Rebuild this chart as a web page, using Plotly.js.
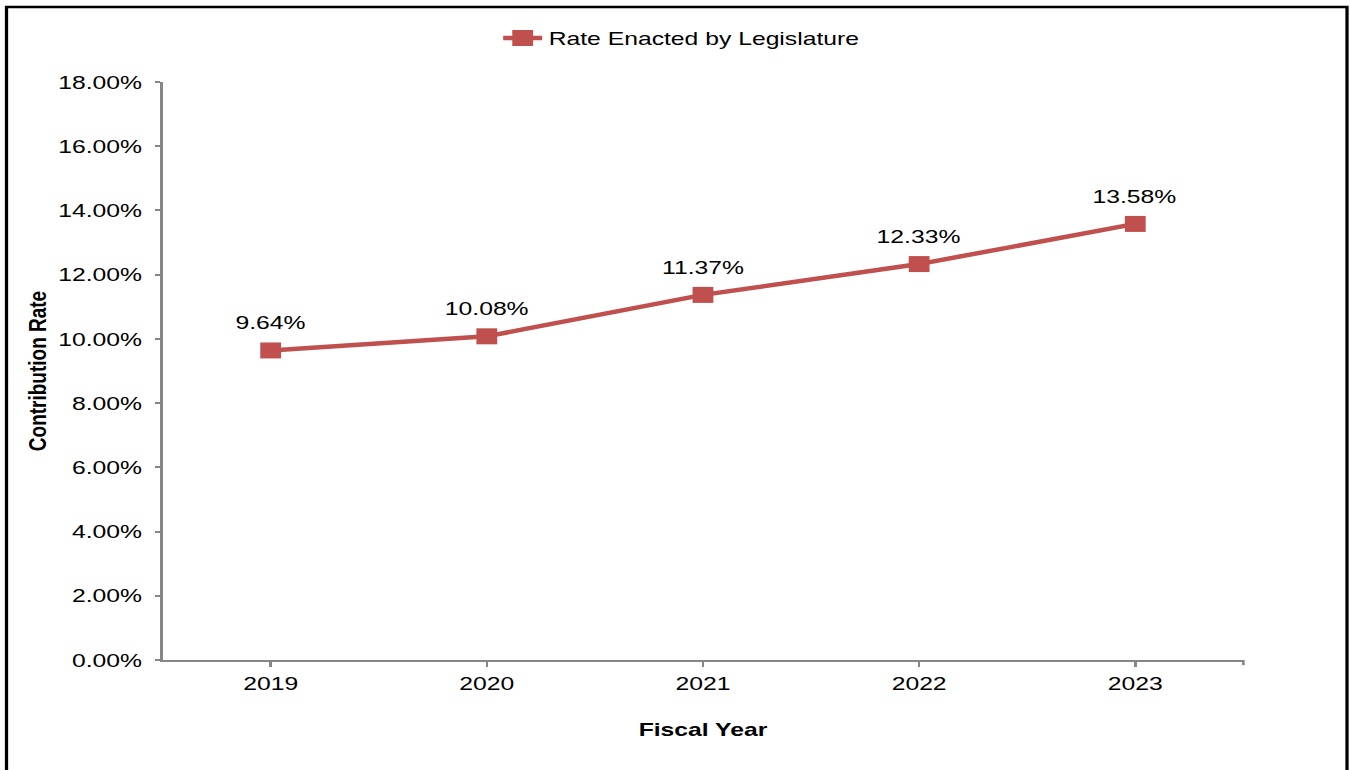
<!DOCTYPE html>
<html>
<head>
<meta charset="utf-8">
<script src="https://cdn.plot.ly/plotly-3.0.1.min.js"></script>
<style>
html,body{margin:0;padding:0;background:#fff;overflow:hidden;}
#wrap{width:1350px;height:770px;overflow:hidden;}
#chart{width:1038px;height:770px;transform:scaleX(1.30058);transform-origin:0 0;}
</style>
</head>
<body>
<div id="wrap"><div id="chart"></div></div>
<script>
const years = ['2019', '2020', '2021', '2022', '2023'];
const rates = [9.64, 10.08, 11.37, 12.33, 13.58];
const rateLabels = ['9.64%', '10.08%', '11.37%', '12.33%', '13.58%'];
const yTickVals = [0, 2, 4, 6, 8, 10, 12, 14, 16, 18];
const yTickText = ['0.00%', '2.00%', '4.00%', '6.00%', '8.00%', '10.00%', '12.00%', '14.00%', '16.00%', '18.00%'];

const red = '#C0504D';
const axisColor = '#868686';
const font = 'Liberation Sans, Arial, sans-serif';

const trace = {
  x: years,
  y: rates,
  type: 'scatter',
  mode: 'lines+markers',
  name: 'Rate Enacted by Legislature',
  line: {color: red, width: 4.5},
  marker: {symbol: 'square', size: 16, color: red},
  cliponaxis: false
};

const labelAnnotations = [];
for (let i = 0; i < years.length; i++) {
  labelAnnotations.push({
    x: i, y: rates[i], xref: 'x', yref: 'y',
    text: rateLabels[i], showarrow: false,
    xanchor: 'center', yanchor: 'bottom',
    yshift: 15,
    font: {family: font, size: 19, color: '#000000'}
  });
}

const layout = {
  width: 1038,
  height: 770,
  margin: {l: 124.6, r: 82.3, t: 82, b: 110, autoexpand: false},
  paper_bgcolor: '#fff',
  plot_bgcolor: '#fff',
  font: {family: font, color: '#000', size: 19},
  showlegend: true,
  legend: {
    orientation: 'h',
    x: 0.48, xanchor: 'center',
    y: 1.076, yanchor: 'middle',
    font: {family: font, size: 19, color: '#000'}
  },
  xaxis: {
    type: 'category',
    range: [-0.5, 4.5],
    showline: true, linecolor: axisColor, linewidth: 2,
    ticks: 'outside', ticklen: 5, tickcolor: axisColor, tickwidth: 2,
    showgrid: false, zeroline: false,
    tickfont: {family: font, size: 19, color: '#000'},
    title: {text: '<b>Fiscal Year</b>', font: {family: font, size: 19, color: '#000'}, standoff: 30}
  },
  yaxis: {
    range: [0, 18],
    tickvals: yTickVals,
    ticktext: yTickText,
    showline: true, linecolor: axisColor, linewidth: 2,
    ticks: 'outside', ticklen: 4, tickcolor: axisColor, tickwidth: 2,
    ticklabelstandoff: 6,
    showgrid: false, zeroline: false,
    tickfont: {family: font, size: 19, color: '#000'},
    title: {text: '<b>Contribution Rate</b>', font: {family: font, size: 19, color: '#000'}, standoff: 4}
  },
  annotations: labelAnnotations,
  shapes: [
    {type: 'line', xref: 'paper', yref: 'paper', x0: 1, x1: 1, y0: 0, y1: -0.009, line: {color: axisColor, width: 2}},
    {type: 'rect', xref: 'paper', yref: 'paper', x0: -0.1444, x1: 1.0959, y0: -0.25, y1: 1.1298, line: {color: '#000', width: 2.5}, fillcolor: 'rgba(0,0,0,0)'}
  ]
};

Plotly.newPlot('chart', [trace], layout, {displayModeBar: false, staticPlot: true});
</script>
</body>
</html>
